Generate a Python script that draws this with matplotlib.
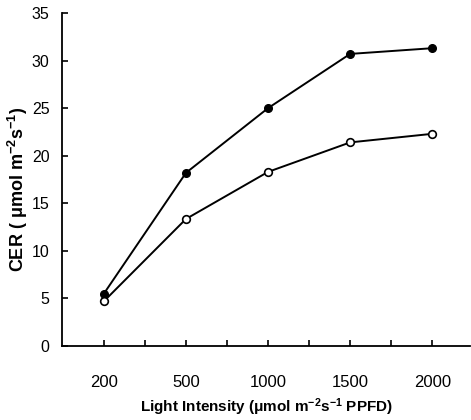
import matplotlib
matplotlib.use("Agg")
import matplotlib.pyplot as plt
import numpy as np

categories = ["200", "500", "1000", "1500", "2000"]
filled_vals = [5.5, 18.2, 25.0, 30.7, 31.3]
open_vals = [4.7, 13.35, 18.3, 21.4, 22.3]
yticks = [0, 5, 10, 15, 20, 25, 30, 35]

plt.rcParams['font.family'] = ['Liberation Sans Narrow', 'Liberation Sans', 'DejaVu Sans']
plt.rcParams['mathtext.default'] = 'regular'

fig = plt.figure(figsize=(4.71, 4.20), dpi=100)
ax = fig.add_axes([62/471, 74/420, 408/471, 333/420])

x = np.arange(len(categories))
ax.plot(x, filled_vals, '-o', color='black', lw=1.4, markersize=5.5,
        markerfacecolor='black', markeredgecolor='black', zorder=3)
ax.plot(x, open_vals, '-o', color='black', lw=1.4, markersize=5.5,
        markerfacecolor='white', markeredgecolor='black', markeredgewidth=1.2, zorder=3)

ax.set_xlim(-0.51, 4.46)
ax.set_ylim(0, 35)
ax.set_xticks(x)
ax.set_xticklabels(categories)
ax.set_xticks(np.arange(0.5, 4.0, 1.0), minor=True)
ax.set_yticks(yticks)
ax.set_yticklabels([str(v) for v in yticks])

for s in ['top', 'right']:
    ax.spines[s].set_visible(False)
for s in ['left', 'bottom']:
    ax.spines[s].set_linewidth(1.3)

ax.tick_params(axis='x', which='both', direction='in', length=4, width=1.2,
               labelsize=12, pad=21)
ax.tick_params(axis='y', which='both', direction='in', length=4, width=1.2,
               labelsize=11.5, pad=9)

ax.set_xlabel(r'Light Intensity ($\mu$mol m$^{-2}$s$^{-1}$ PPFD)',
              fontsize=11, fontweight='bold', va='center')
ax.xaxis.set_label_coords(0.5, -0.184)
ax.set_ylabel(r'CER ( $\mu$mol m$^{-2}$s$^{-1}$)', fontsize=13,
              fontweight='bold', va='center')
ax.yaxis.set_label_coords(-0.107, 0.47)

fig.savefig('out.png', dpi=100)
